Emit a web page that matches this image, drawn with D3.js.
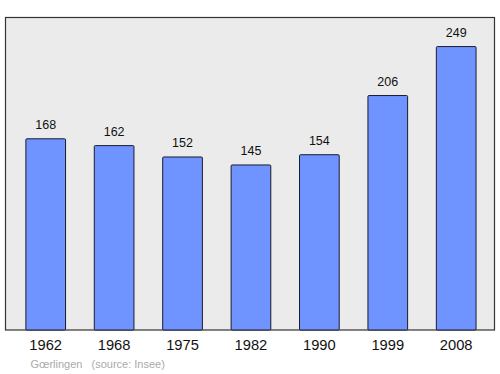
<!DOCTYPE html>
<html>
<head>
<meta charset="utf-8">
<script src="https://cdn.jsdelivr.net/npm/d3@7"></script>
<style>
  body { margin: 0; background: #fff; }
  text { font-family: "Liberation Sans", Arial, sans-serif; }
</style>
</head>
<body>
<script>
// population by census year
const years = ["1962", "1968", "1975", "1982", "1990", "1999", "2008"];
const population = [168, 162, 152, 145, 154, 206, 249];
const place = "Gœrlingen";
const source = "(source: Insee)";

const width = 500, height = 374;

const svg = d3.select("body").append("svg")
  .attr("width", width)
  .attr("height", height);

// frame
svg.append("rect")
  .attr("x", 5.5).attr("y", 17.5)
  .attr("width", 489).attr("height", 312.5)
  .attr("fill", "#ebebeb")
  .attr("stroke", "#333")
  .attr("stroke-width", 1.2);

var x = d3.scaleBand()
  .domain(years)
  .range([11.5, 490.4])
  .paddingInner(0.42)
  .paddingOuter(0.21);

var y = d3.scaleLinear()
  .domain([0, 275])
  .range([330, 17]);

svg.selectAll(".bar")
  .data(population)
  .enter()
  .append("rect")
  .attr("class", "bar")
  .attr("x", (d, i) => x(years[i]))
  .attr("y", d => y(d))
  .attr("width", x.bandwidth())
  .attr("height", d => y(0) - y(d))
  .attr("rx", 1)
  .attr("fill", "#7094ff")
  .attr("stroke", "#1a1a2e")
  .attr("stroke-width", 1);

// value labels
svg.selectAll(".val")
  .data(population)
  .enter()
  .append("text")
  .attr("class", "val")
  .attr("x", (d, i) => x(years[i]) + x.bandwidth() / 2)
  .attr("y", d => y(d) - 10)
  .attr("text-anchor", "middle")
  .attr("font-size", 12.5)
  .attr("fill", "#111")
  .text(d => d);

// year axis
svg.append("g")
  .attr("transform", "translate(0,330)")
  .call(d3.axisBottom(x).tickSize(0).tickPadding(10))
  .call(g => g.select(".domain").remove())
  .selectAll("text")
  .attr("font-family", "'Liberation Sans', Arial, sans-serif")
  .attr("font-size", 14.7)
  .attr("fill", "#111")
  .attr("dy", "0.71em");

// footer
svg.append("text")
  .attr("x", 30.5).attr("y", 368)
  .attr("font-size", 11)
  .attr("fill", "#aaa")
  .text(place);
svg.append("text")
  .attr("x", 91.5).attr("y", 368)
  .attr("font-size", 11)
  .attr("fill", "#aaa")
  .text(source);
</script>
</body>
</html>
